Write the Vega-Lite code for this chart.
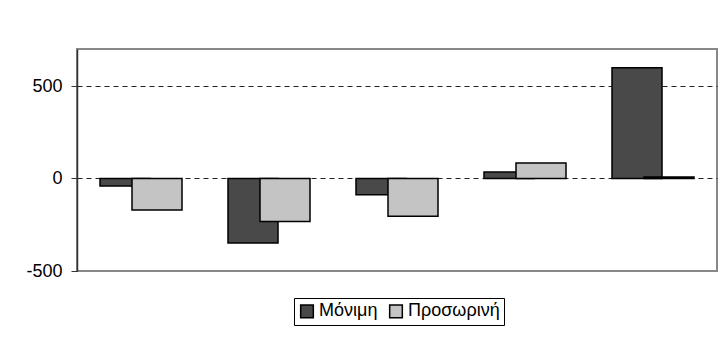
{
  "$schema": "https://vega.github.io/schema/vega-lite/v6.json",
  "width": 640,
  "height": 222,
  "autosize": {"type": "none"},
  "padding": {"left": 77, "top": 49, "right": 11, "bottom": 70},
  "background": "white",
  "data": {
    "values": [
      {"group": "1", "series": "Μόνιμη", "value": -40},
      {"group": "1", "series": "Προσωρινή", "value": -170},
      {"group": "2", "series": "Μόνιμη", "value": -348},
      {"group": "2", "series": "Προσωρινή", "value": -233},
      {"group": "3", "series": "Μόνιμη", "value": -88},
      {"group": "3", "series": "Προσωρινή", "value": -204},
      {"group": "4", "series": "Μόνιμη", "value": 35},
      {"group": "4", "series": "Προσωρινή", "value": 84},
      {"group": "5", "series": "Μόνιμη", "value": 598},
      {"group": "5", "series": "Προσωρινή", "value": 8}
    ]
  },
  "mark": {"type": "bar", "width": 50, "stroke": "black", "strokeWidth": 1.5},
  "encoding": {
    "x": {"field": "group", "type": "nominal", "axis": null,
          "scale": {"paddingInner": 0, "paddingOuter": 0}},
    "xOffset": {"field": "series", "type": "nominal",
                "sort": ["Μόνιμη", "Προσωρινή"],
                "scale": {"paddingInner": 0, "paddingOuter": 1.133}},
    "y": {"field": "value", "type": "quantitative",
          "scale": {"domain": [-500, 700], "nice": false, "zero": false},
          "axis": {"values": [-500, 0, 500], "title": null, "grid": true,
                   "gridDash": [5, 4], "gridColor": "#222222", "gridWidth": 1,
                   "gridOpacity": {"condition": {"test": "datum.value === -500", "value": 0}, "value": 1},
                   "labelExpr": "datum.value < 0 ? '-' + abs(datum.value) : '' + datum.value",
                   "domainColor": "#333333", "domainWidth": 1.5,
                   "tickColor": "#333333", "tickSize": 6, "labelPadding": 9,
                   "labelFont": "Liberation Sans", "labelFontSize": 18, "labelColor": "#000000"}},
    "color": {"field": "series", "type": "nominal",
              "sort": ["Μόνιμη", "Προσωρινή"],
              "scale": {"domain": ["Μόνιμη", "Προσωρινή"], "range": ["#494949", "#c4c4c4"]},
              "legend": {"title": null, "orient": "none", "legendX": 217, "legendY": 249,
                         "direction": "horizontal", "strokeColor": "#000000", "padding": 4,
                         "symbolType": "square", "symbolSize": 160, "symbolStrokeColor": "#000000",
                         "symbolStrokeWidth": 1.5, "symbolOpacity": 1,
                         "labelFont": "Liberation Sans", "labelFontSize": 18, "labelColor": "#000000",
                         "columnPadding": 8, "labelOffset": 3}}
  },
  "config": {
    "view": {"stroke": "#888888", "strokeWidth": 2},
    "font": "Liberation Sans"
  }
}
